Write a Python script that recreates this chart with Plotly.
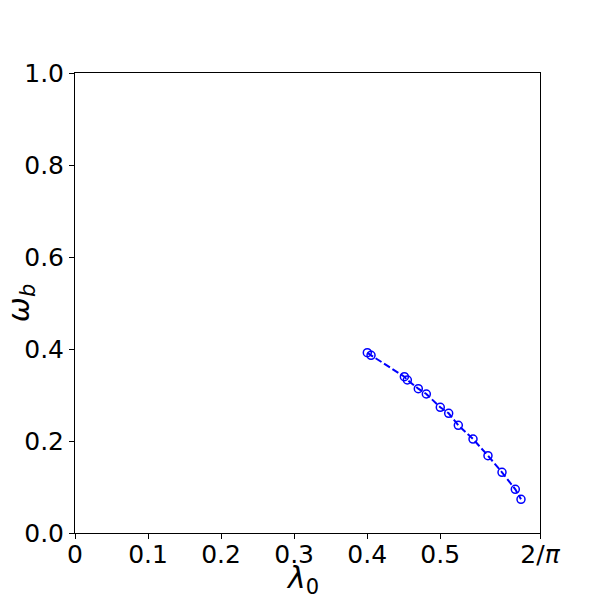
import numpy as np
import plotly.graph_objects as go

lambda0 = [0.4002, 0.4053, 0.4509, 0.4550, 0.4700, 0.4810, 0.5001,
           0.5116, 0.5248, 0.5449, 0.5654, 0.5846, 0.6028, 0.6106]
omega_b = [0.3920, 0.3863, 0.3398, 0.3326, 0.3137, 0.3022, 0.2733,
           0.2602, 0.2341, 0.2043, 0.1680, 0.1320, 0.0950, 0.0733]

xtick_vals = [0, 0.1, 0.2, 0.3, 0.4, 0.5, 2 / np.pi]
xtick_text = ["0", "0.1", "0.2", "0.3", "0.4", "0.5", "2/<i>π</i>"]
ytick_vals = [0.0, 0.2, 0.4, 0.6, 0.8, 1.0]
ytick_text = ["0.0", "0.2", "0.4", "0.6", "0.8", "1.0"]

fig = go.Figure()
fig.add_trace(go.Scatter(
    x=lambda0, y=omega_b, mode='lines+markers',
    line=dict(color='blue', dash='7px,3px', width=2),
    marker=dict(symbol='circle-open', size=8, color='blue', line=dict(width=1.5)),
    showlegend=False))

axis_style = dict(showgrid=False, zeroline=False, showline=True, linecolor='black',
                  linewidth=1, mirror=True, ticks='outside', ticklen=5,
                  tickcolor='black', tickfont=dict(size=25, color='black'),
                  automargin=False)

fig.update_xaxes(range=[0, 2 / np.pi], tickvals=xtick_vals, ticktext=xtick_text,
                 ticklabelstandoff=-6, **axis_style)
fig.update_yaxes(range=[0, 1], tickvals=ytick_vals, ticktext=ytick_text, **axis_style)

# axis titles as annotations so they sit where matplotlib put them
fig.add_annotation(text='<i>λ</i><sub>0</sub>', xref='paper', yref='paper',
                   x=0.49, y=-0.102, yanchor='middle', showarrow=False,
                   font=dict(size=30, color='black'))
fig.add_annotation(text='<i>ω</i><sub><i>b</i></sub>', xref='paper', yref='paper',
                   x=-0.118, y=0.5, xanchor='center', showarrow=False, textangle=-90,
                   font=dict(size=30, color='black'))

# the page body adds an 8px offset, so the margins are shifted to compensate
fig.update_layout(width=600, height=600, plot_bgcolor='white', paper_bgcolor='white',
                  font=dict(family='DejaVu Sans'),
                  margin=dict(l=67, r=68, t=65, b=75))
fig.write_html("out.html")
